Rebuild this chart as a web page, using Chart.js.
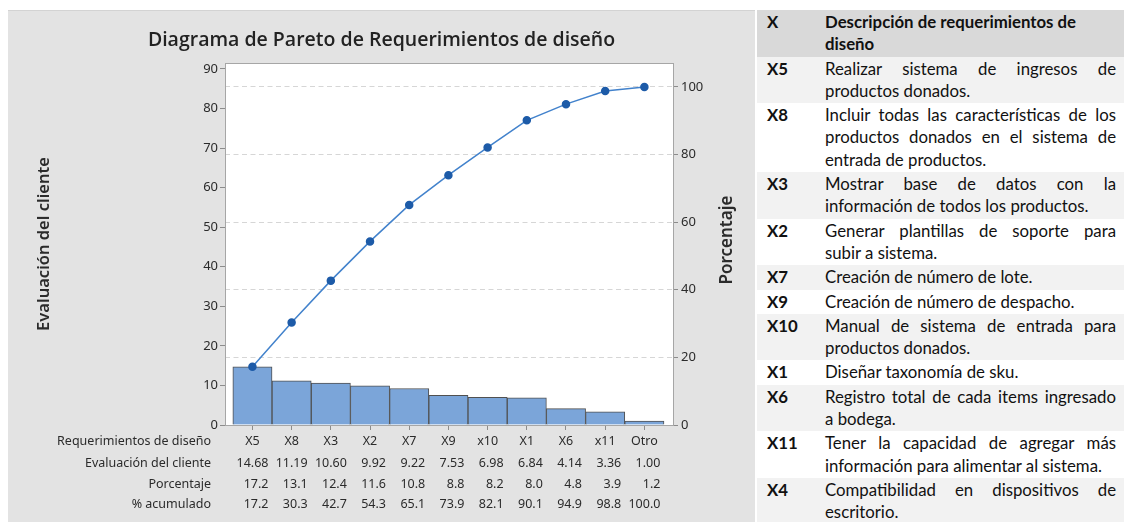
<!DOCTYPE html>
<html lang="es">
<head>
<meta charset="utf-8">
<title>Diagrama de Pareto de Requerimientos de diseño</title>
<script src="https://cdn.jsdelivr.net/npm/chart.js@4.4.1/dist/chart.umd.min.js"></script>
<style>
  html, body { margin: 0; padding: 0; background: #fff; width: 1124px; height: 522px; overflow: hidden; }
  #panel { position: absolute; left: 8px; top: 10px; width: 747px; height: 512px; background: #e3e3e3; box-shadow: inset 0 1px 0 #d3d3d3; }
  #req { position: absolute; left: 757px; top: 10px; width: 367px; border-collapse: collapse; font-family: Lato, "Noto Sans", sans-serif; font-size: 16.8px; color: #111; }
  #req td { padding: 1px 0; vertical-align: top; line-height: 22.3px; }
  #req td.k { width: 58px; padding-left: 10px; font-weight: bold; }
  #req td.d { padding-right: 8px; }
  #req td.d div { white-space: nowrap; }
  #req tr.h td { background: #d9d9d9; font-weight: bold; }
  #req tr.b td { background: #f2f2f2; }
  #req .j { text-align: justify; text-align-last: justify; }
</style>
</head>
<body>
<div id="panel">
  <canvas id="pareto"></canvas>
</div>
<table id="req"><tbody id="filas"></tbody></table>

<script>
// datos del diagrama
const categorias = ['X5', 'X8', 'X3', 'X2', 'X7', 'X9', 'x10', 'X1', 'X6', 'x11', 'Otro'];
const evaluacion = [14.68, 11.19, 10.60, 9.92, 9.22, 7.53, 6.98, 6.84, 4.14, 3.36, 1.00];
const porcentaje = [17.2, 13.1, 12.4, 11.6, 10.8, 8.8, 8.2, 8.0, 4.8, 3.9, 1.2];
const acumulado = [17.2, 30.3, 42.7, 54.3, 65.1, 73.9, 82.1, 90.1, 94.9, 98.8, 100.0];
const filasTabla = ['Requerimientos de diseño', 'Evaluación del cliente', 'Porcentaje', '% acumulado'];
const ticksIzq = [0, 10, 20, 30, 40, 50, 60, 70, 80, 90];
const ticksDer = [0, 20, 40, 60, 80, 100];

// tabla de descripciones
const claves = ['X5', 'X8', 'X3', 'X2', 'X7', 'X9', 'X10', 'X1', 'X6', 'X11', 'X4'];
const descripciones = [
  ['Realizar sistema de ingresos de', 'productos donados.'],
  ['Incluir todas las características de los', 'productos donados en el sistema de', 'entrada de productos.'],
  ['Mostrar base de datos con la', 'información de todos los productos.'],
  ['Generar plantillas de soporte para', 'subir a sistema.'],
  ['Creación de número de lote.'],
  ['Creación de número de despacho.'],
  ['Manual de sistema de entrada para', 'productos donados.'],
  ['Diseñar taxonomía de sku.'],
  ['Registro total de cada items ingresado', 'a bodega.'],
  ['Tener la capacidad de agregar más', 'información para alimentar al sistema.'],
  ['Compatibilidad en dispositivos de', 'escritorio.']
];

var tbody = document.getElementById('filas');
tbody.insertAdjacentHTML('beforeend',
  '<tr class="h"><td class="k">X</td><td class="d"><div>Descripción de requerimientos de</div><div>diseño</div></td></tr>');
claves.forEach((k, i) => {
  var lineas = descripciones[i].map((l, j) =>
    `<div class="${j < descripciones[i].length - 1 ? 'j' : ''}">${l}</div>`).join('');
  tbody.insertAdjacentHTML('beforeend',
    `<tr class="${i % 2 === 0 ? 'b' : ''}"><td class="k">${k}</td><td class="d">${lineas}</td></tr>`);
});

var total = evaluacion.reduce((a, b) => a + b, 0);
var yMax = 91.5;
var y1Max = yMax / total * 100;

var fuente = '"Noto Sans", "Open Sans", sans-serif';
var gris = '#a6a6a6';

// marco, tabla inferior y titulo derecho
var extras = {
  id: 'extras',
  beforeDraw(chart) {
    const {ctx, chartArea: a} = chart;
    ctx.save();
    ctx.fillStyle = '#fff';
    ctx.fillRect(a.left, a.top, a.right - a.left, a.bottom - a.top);
    ctx.restore();
  },
  afterDraw(chart) {
    const {ctx, chartArea: a, scales: {x}} = chart;
    ctx.save();
    ctx.strokeStyle = gris;
    ctx.lineWidth = 1;
    ctx.beginPath();
    ctx.moveTo(a.left, a.top + 0.5);
    ctx.lineTo(a.right, a.top + 0.5);
    ctx.stroke();

    ctx.font = '12.5px ' + fuente;
    ctx.fillStyle = '#2b2b2b';
    ctx.textBaseline = 'middle';
    ctx.textAlign = 'right';
    var filasY = [a.bottom + 16, a.bottom + 38, a.bottom + 59, a.bottom + 79];
    filasTabla.forEach((t, r) => ctx.fillText(t, a.left - 14, filasY[r]));
    var valores = [
      evaluacion.map(v => v.toFixed(2)),
      porcentaje.map(v => v.toFixed(1)),
      acumulado.map(v => v.toFixed(1))
    ];
    valores.forEach((fila, r) => fila.forEach((t, i) =>
      ctx.fillText(t, x.getPixelForValue(i) + 16, filasY[r + 1])));

    ctx.translate(a.right + 54, (a.top + a.bottom) / 2 - 4);
    ctx.rotate(-Math.PI / 2);
    ctx.textAlign = 'center';
    ctx.font = '600 17px ' + fuente;
    ctx.fillStyle = '#2b2b2b';
    ctx.fillText('Porcentaje', 0, 0);
    ctx.restore();
  }
};

var ctx = document.getElementById('pareto').getContext('2d');
new Chart(ctx, {
  type: 'bar',
  data: {
    datasets: [{
      type: 'line',
      label: '% acumulado',
      data: acumulado.map((v, i) => ({x: i, y: v})),
      yAxisID: 'y1',
      borderColor: '#4282cc',
      borderWidth: 1.5,
      pointRadius: 3.5,
      pointBackgroundColor: '#1d5ba8',
      pointBorderColor: '#1d5ba8',
      tension: 0,
      order: 1
    }, {
      label: 'Evaluación del cliente',
      data: evaluacion.map((v, i) => ({x: i, y: v})),
      yAxisID: 'y',
      backgroundColor: '#7ba5d9',
      borderColor: '#505050',
      borderWidth: 1,
      barPercentage: 1,
      categoryPercentage: 1,
      order: 2
    }]
  },
  options: {
    responsive: true,
    maintainAspectRatio: false,
    animation: false,
    layout: { padding: 0 },
    plugins: {
      legend: { display: false },
      tooltip: { enabled: false },
      title: {
        display: true,
        text: 'Diagrama de Pareto de Requerimientos de diseño',
        color: '#222',
        font: { family: '"Open Sans", "Noto Sans", sans-serif', size: 19.5, weight: '600' },
        padding: { top: 19, bottom: 10.6 }
      }
    },
    scales: {
      x: {
        type: 'linear',
        min: -0.7,
        max: 10.73,
        offset: false,
        afterBuildTicks: s => { s.ticks = categorias.map((c, i) => ({value: i})); },
        afterFit: s => { s.height = 97; },
        grid: { drawOnChartArea: false, offset: false, tickLength: 5, tickColor: '#8c8c8c' },
        border: { color: gris },
        ticks: {
          autoSkip: false, maxRotation: 0, padding: 4, color: '#2b2b2b',
          font: { family: fuente, size: 12.5 },
          callback: v => categorias[v]
        }
      },
      y: {
        position: 'left',
        min: 0,
        max: yMax,
        afterBuildTicks: s => { s.ticks = ticksIzq.map(v => ({value: v})); },
        afterFit: s => { s.width = 217; },
        grid: { drawOnChartArea: false, tickLength: 5, tickColor: '#8c8c8c' },
        border: { color: gris },
        ticks: { padding: 2, color: '#2b2b2b', font: { family: fuente, size: 13 } },
        title: {
          display: true,
          text: 'Evaluación del cliente',
          color: '#2b2b2b',
          font: { family: fuente, size: 16.5, weight: '600' },
          padding: { top: 26 }
        }
      },
      y1: {
        position: 'right',
        min: 0,
        max: y1Max,
        afterBuildTicks: s => { s.ticks = ticksDer.map(v => ({value: v})); },
        afterFit: s => { s.width = 82; },
        grid: {
          color: c => (c.tick && c.tick.value > 0) ? '#d6d6d6' : 'rgba(0,0,0,0)',
          tickColor: '#8c8c8c',
          tickLength: 5
        },
        border: { color: gris, dash: [5, 3.5] },
        ticks: { padding: 3, color: '#2b2b2b', font: { family: fuente, size: 13 } }
      }
    }
  },
  plugins: [extras]
});
</script>
</body>
</html>
